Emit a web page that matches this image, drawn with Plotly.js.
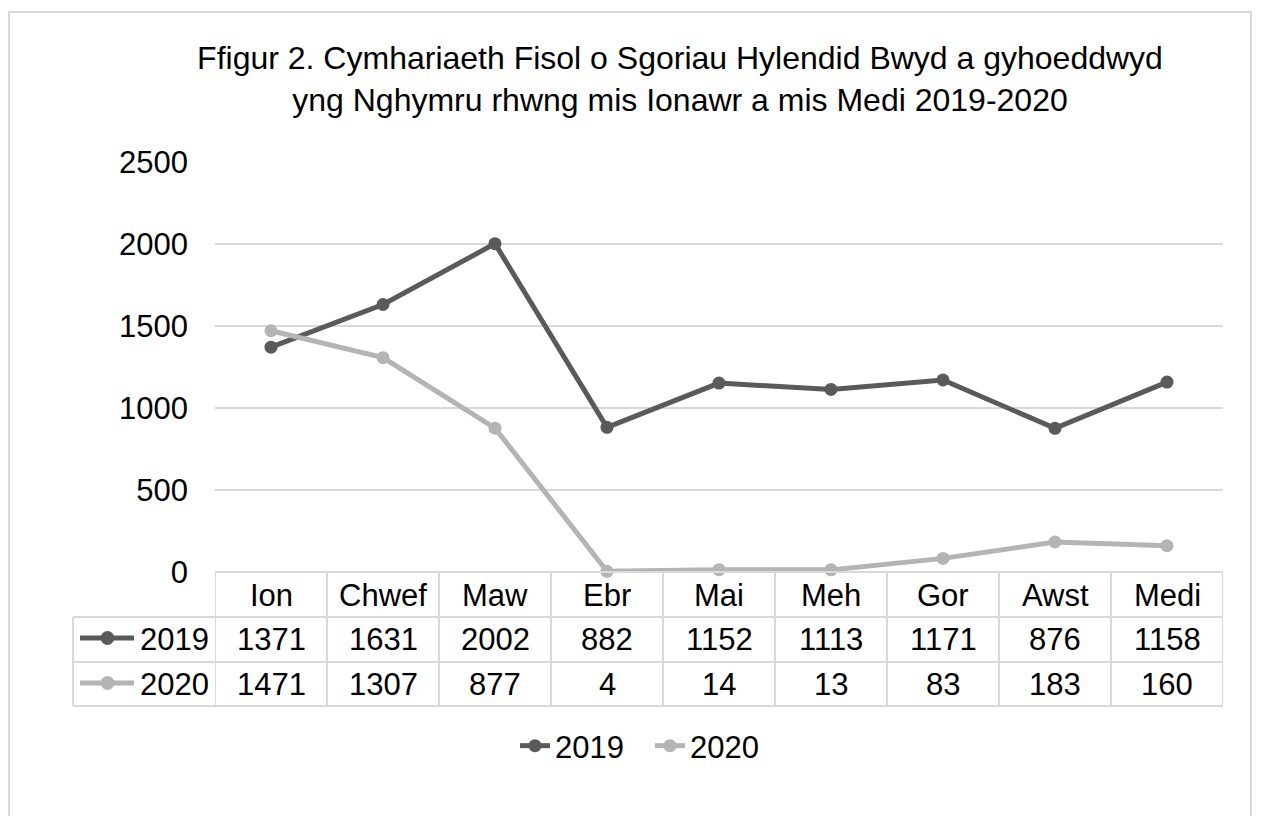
<!DOCTYPE html>
<html><head><meta charset="utf-8">
<script src="https://cdn.plot.ly/plotly-3.0.1.min.js"></script>
<style>html,body{margin:0;padding:0;background:#fff}#chart{width:1261px;height:816px}</style>
</head><body><div id="chart"></div>
<script>
const months = ['Ion','Chwef','Maw','Ebr','Mai','Meh','Gor','Awst','Medi'];
const seriesNames = ['2019','2020'];
const values2019 = [1371,1631,2002,882,1152,1113,1171,876,1158];
const values2020 = [1471,1307,877,4,14,13,83,183,160];
const yTicks = [0,500,1000,1500,2000,2500];
const titleText = 'Ffigur 2. Cymhariaeth Fisol o Sgoriau Hylendid Bwyd a gyhoeddwyd<br>yng Nghymru rhwng mis Ionawr a mis Medi 2019-2020';

const colors = ['#5a5a5a', '#b4b4b4'];
const FONT = 'Liberation Sans, Arial, sans-serif';
const FS = 31;
const W = 1261, H = 816, L = 215, R = 38, T = 162, B = 244;
const plotW = W - L - R, plotH = H - T - B;
const px = x => (x - L) / plotW;
const py = y => (H - B - y) / plotH;
const gridC = '#d9d9d9';

const allValues = [values2019, values2020];
const traces = allValues.map((v, i) => ({
  type: 'scatter', mode: 'lines+markers', name: seriesNames[i],
  x: months, y: v,
  line: {color: colors[i], width: 5},
  marker: {color: colors[i], size: 13},
  cliponaxis: false
}));

const shapes = [];
const annotations = [];
// outer chart border
shapes.push({type:'rect', xref:'paper', yref:'paper', x0:px(9), x1:px(1251), y0:py(830), y1:py(12), line:{color:gridC, width:2}, fillcolor:'rgba(0,0,0,0)', layer:'below'});
// table rows
const rowY = [572, 617, 662, 706];
rowY.forEach((y, k) => {
  shapes.push({type:'line', xref:'paper', yref:'paper', x0: k === 0 ? 0 : px(73), x1: 1, y0: py(y), y1: py(y), line:{color:gridC, width:2}});
});
// table column lines
for (let k = 0; k <= months.length; k++) {
  shapes.push({type:'line', xref:'x', yref:'paper', x0: k - 0.5, x1: k - 0.5, y0: py(572), y1: py(706), line:{color:gridC, width:2}});
}
shapes.push({type:'line', xref:'paper', yref:'paper', x0: px(73), x1: px(73), y0: py(617), y1: py(706), line:{color:gridC, width:2}});

// header and cell texts
const textFont = {family: FONT, size: FS, color: '#000'};
months.forEach((m, i) => {
  annotations.push({xref:'x', yref:'paper', x: m, y: py(595), text: m, showarrow:false, font:textFont, xanchor:'center', yanchor:'middle'});
});
const rowCenters = [639, 684];
allValues.forEach((v, r) => {
  v.forEach((val, i) => {
    annotations.push({xref:'x', yref:'paper', x: months[i], y: py(rowCenters[r]), text: String(val), showarrow:false, font:textFont, xanchor:'center', yanchor:'middle'});
  });
  // row label
  annotations.push({xref:'paper', yref:'paper', x: px(211), y: py(rowCenters[r]), text: seriesNames[r], showarrow:false, font:textFont, xanchor:'right', yanchor:'middle'});
  // legend key in the row
  shapes.push({type:'line', xref:'paper', yref:'paper', x0: px(80), x1: px(134), y0: py(rowCenters[r] - 1), y1: py(rowCenters[r] - 1), line:{color:colors[r], width:5}});
  shapes.push({type:'circle', xref:'paper', yref:'paper', x0: px(101), x1: px(114), y0: py(rowCenters[r] + 5.5), y1: py(rowCenters[r] - 7.5), line:{color:colors[r], width:1}, fillcolor: colors[r]});
});

const layout = {
  width: W, height: H,
  margin: {l: L, r: R, t: T, b: B, pad: 0},
  paper_bgcolor: '#fff', plot_bgcolor: '#fff',
  font: {family: FONT, size: FS, color: '#000'},
  title: {text: titleText, font: {family: FONT, size: 32, color: '#000'}, xref: 'container', x: 680 / W, xanchor: 'center', yref: 'container', y: 1 - 69 / H, yanchor: 'middle'},
  xaxis: {type: 'category', range: [-0.5, months.length - 0.5], showticklabels: false, showgrid: false, zeroline: false, showline: false, ticks: '', fixedrange: true},
  yaxis: {range: [0, 2500], tickvals: yTicks, ticktext: yTicks.map(String), showgrid: true, gridcolor: gridC, gridwidth: 2, zeroline: false, showline: false, ticks: '', ticklabelstandoff: 26, tickfont: {family: FONT, size: FS, color: '#000'}, fixedrange: true},
  showlegend: true,
  legend: {orientation: 'h', x: px(650), xanchor: 'center', y: py(746), yanchor: 'middle', entrywidth: 90, entrywidthmode: 'pixels', font: {family: FONT, size: FS, color: '#000'}, bgcolor: 'rgba(0,0,0,0)'},
  shapes: shapes,
  annotations: annotations
};
Plotly.newPlot('chart', traces, layout, {displayModeBar: false, staticPlot: true});
</script></body></html>
